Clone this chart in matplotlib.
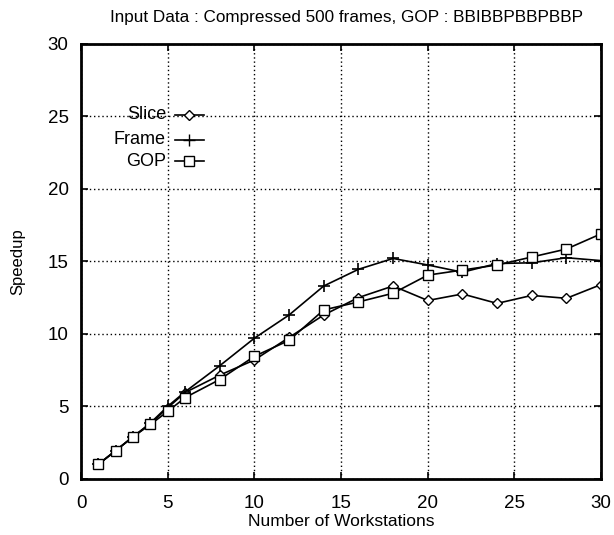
import numpy as np
import matplotlib
matplotlib.use("Agg")
import matplotlib.pyplot as plt

# number of workstations
workstations = [1, 2, 3, 4, 5, 6, 8, 10, 12, 14, 16, 18, 20, 22, 24, 26, 28, 30]

# speedup
slice_speedup = [1.0, 1.95, 2.9, 3.8, 4.9, 5.95, 7.15, 8.2, 9.75, 11.3, 12.5, 13.3,
                 12.3, 12.75, 12.1, 12.65, 12.45, 13.4]
frame_speedup = [1.0, 1.95, 2.9, 3.85, 5.0, 6.0, 7.8, 9.7, 11.3, 13.3, 14.45, 15.2,
                 14.75, 14.25, 14.85, 14.9, 15.25, 15.05]
gop_speedup = [1.0, 1.95, 2.9, 3.75, 4.65, 5.6, 6.85, 8.45, 9.55, 11.65, 12.2, 12.8,
               14.05, 14.4, 14.75, 15.3, 15.85, 16.9]

title = "Input Data : Compressed 500 frames, GOP : BBIBBPBBPBBP"
ticks = [0, 5, 10, 15, 20, 25, 30]

font = ["Liberation Sans", "DejaVu Sans"]

fig = plt.figure(figsize=(6.14, 5.35), dpi=100)
ax = fig.add_axes([0.132, 0.105, 0.847, 0.813])

ax.plot(workstations, slice_speedup, color="black", lw=1.2, marker="D", ms=5,
        mfc="white", mec="black", mew=1.0)
ax.plot(workstations, frame_speedup, color="black", lw=1.2, marker="+", ms=9, mew=1.2)
ax.plot(workstations, gop_speedup, color="black", lw=1.2, marker="s", ms=6.5,
        mfc="white", mec="black", mew=1.0)

# gnuplot style key, drawn inside the plot
key = [("Slice", "D", 5, "white"), ("Frame", "+", 9, "black"), ("GOP", "s", 6.5, "white")]
key_y = [25.1, 23.4, 21.9]
for (name, m, ms, fc), ky in zip(key, key_y):
    ax.plot([5.4, 7.1], [ky, ky], color="black", lw=1.2)
    ax.plot([6.25], [ky], color="black", marker=m, ms=ms, mfc=fc, mec="black", mew=1.0)
    ax.text(4.9, ky, name, ha="right", va="center", fontsize=13, family=font)

ax.set_xlim(0, 30)
ax.set_ylim(0, 30)
ax.set_xticks(ticks)
ax.set_yticks(ticks)
ax.set_xticklabels([str(t) for t in ticks], fontsize=13.5, family=font)
ax.set_yticklabels([str(t) for t in ticks], fontsize=13.5, family=font)
ax.tick_params(direction="in", length=5, width=1.2, top=True, right=True)
ax.tick_params(axis="x", pad=12)
ax.tick_params(axis="y", pad=9)
ax.grid(True, color="black", ls=(0, (1, 2)), lw=1.0)

for s in ax.spines.values():
    s.set_linewidth(2.0)

ax.set_xlabel("Number of Workstations", fontsize=12.5, family=font, labelpad=1)
ax.set_ylabel("Speedup", fontsize=12, family=font, labelpad=16)
fig.text(0.564, 0.968, title, ha="center", va="center", fontsize=12.3, family=font)

fig.savefig("out.png", dpi=100, facecolor="white")
